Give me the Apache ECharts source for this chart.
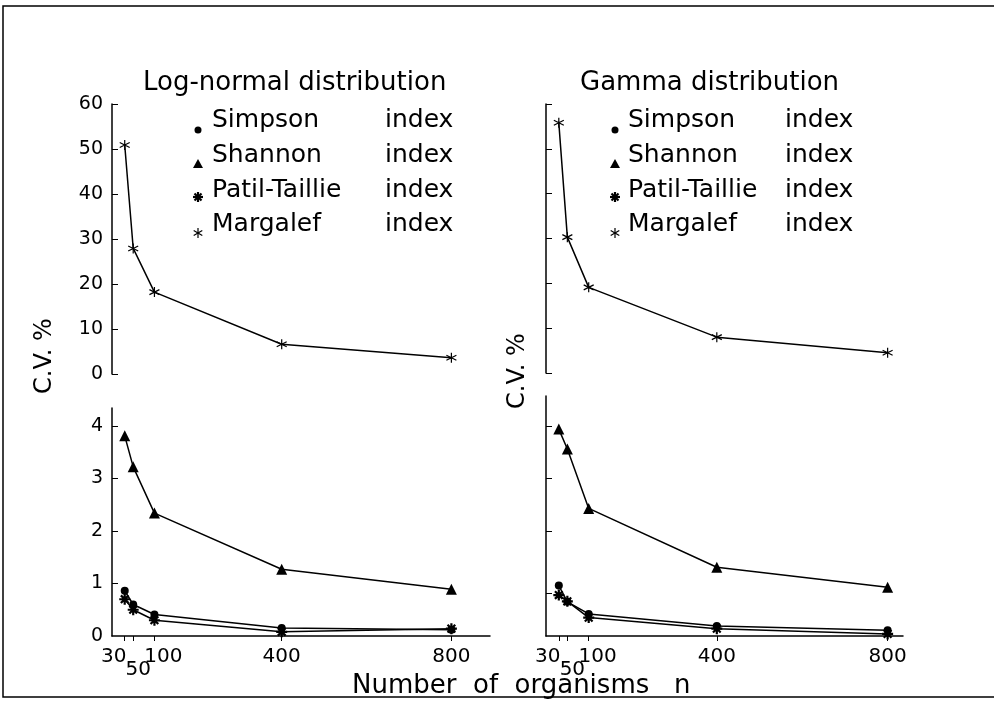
<!DOCTYPE html>
<html>
<head>
<meta charset="utf-8">
<script src="https://cdn.jsdelivr.net/npm/echarts@6/dist/echarts.min.js"></script>
<style>
  html, body { margin: 0; padding: 0; background: #fff; }
  #chart { width: 994px; height: 705px; }
</style>
</head>
<body>
<div id="chart"></div>
<script>
// sample sizes (number of organisms n)
const sizes = [30, 50, 100, 400, 800];
const xTicks = [30, 50, 100, 400, 800];
const xLabelsMain = [30, 100, 400, 800];
const xLabelsLow = [50];   // "50" sits a line lower in the original

// C.V. %
const margalefLogNormal = [50.9, 27.9, 18.2, 6.6, 3.6];
const margalefGamma = [55.8, 30.3, 19.1, 8.0, 4.5];

const simpsonLogNormal = [0.86, 0.6, 0.41, 0.15, 0.12];
const shannonLogNormal = [3.81, 3.22, 2.34, 1.27, 0.89];
const patilLogNormal = [0.7, 0.5, 0.3, 0.08, 0.14];

const simpsonGamma = [0.96, 0.65, 0.42, 0.19, 0.11];
const shannonGamma = [3.94, 3.56, 2.43, 1.31, 0.93];
const patilGamma = [0.78, 0.66, 0.35, 0.14, 0.04];

const legendNames = ['Simpson', 'Shannon', 'Patil-Taillie', 'Margalef'];

const FONT = '"DejaVu Sans", sans-serif';
const asterisk = 'path://M5 0L5 10M0.67 2.5L9.33 7.5M9.33 2.5L0.67 7.5';
const boldStar = 'path://M5 0L5 10M0 5L10 5M1.5 1.5L8.5 8.5M8.5 1.5L1.5 8.5';

const pairs = (vals) => sizes.map((n, i) => [n, vals[i]]);

const styles = {
  'Simpson': { symbol: 'circle', symbolSize: 8, itemStyle: { color: '#000', borderWidth: 0 } },
  'Shannon': { symbol: 'triangle', symbolSize: 11, itemStyle: { color: '#000', borderWidth: 0 } },
  'Patil-Taillie': { symbol: boldStar, symbolSize: 11, itemStyle: { color: '#000', borderColor: '#000', borderWidth: 2.2 } },
  'Margalef': { symbol: asterisk, symbolSize: 10, itemStyle: { color: '#000', borderColor: '#000', borderWidth: 1.2 } }
};

const makeSeries = (name, vals, idx) => Object.assign({
  name: name,
  type: 'line',
  xAxisIndex: idx,
  yAxisIndex: idx,
  data: pairs(vals),
  lineStyle: { color: '#000', width: 1.5 },
  emphasis: { disabled: true },
  animation: false
}, styles[name]);

const xLabelFmt = (v) => {
  if (v === 30) return '{a|30}';
  if (v === 50) return '{b|50}';
  if (v === 100) return '{c|100}';
  return '{d|' + v + '}';
};
const labelText = { fontFamily: FONT, fontSize: 20, color: '#000' };
const xRich = {
  a: Object.assign({ padding: [0, 22, 0, 0] }, labelText),
  b: Object.assign({ padding: [0, 0, 0, 10] }, labelText),
  c: Object.assign({ padding: [0, 0, 0, 18] }, labelText),
  d: Object.assign({}, labelText)
};

const xAxisBottom = (idx, max) => ({
  gridIndex: idx,
  type: 'value',
  position: 'bottom',
  min: 0,
  max: max,
  axisLine: { lineStyle: { color: '#000', width: 1.5 } },
  axisTick: { customValues: xTicks, length: 5, lineStyle: { color: '#000', width: 1 } },
  axisLabel: {
    customValues: xLabelsMain,
    hideOverlap: false,
    showMinLabel: true,
    showMaxLabel: true,
    margin: 11,
    formatter: xLabelFmt,
    rich: xRich
  },
  splitLine: { show: false }
});

// second axis on the same grid, only to carry the lowered "50"
const xAxisLow = (idx, max) => ({
  gridIndex: idx,
  type: 'value',
  position: 'bottom',
  min: 0,
  max: max,
  axisLine: { show: false },
  axisTick: { show: false },
  axisLabel: {
    customValues: xLabelsLow,
    hideOverlap: false,
    showMinLabel: true,
    showMaxLabel: true,
    margin: 24,
    formatter: xLabelFmt,
    rich: xRich
  },
  splitLine: { show: false }
});

const xAxisHidden = (idx, max) => ({
  gridIndex: idx, type: 'value', min: 0, max: max, show: false
});

const yLine = { lineStyle: { color: '#000', width: 1.5 } };
const yTick = { inside: true, length: 6, lineStyle: { color: '#000', width: 1 } };
const yLabel = { fontFamily: FONT, fontSize: 19, color: '#000', margin: 9, hideOverlap: false,
  showMinLabel: true, showMaxLabel: true };

// small helper: a star of straight strokes for the legend markers
const spokes = (cx, cy, segs, width) => segs.map(s => ({
  type: 'line',
  shape: { x1: cx + s[0], y1: cy + s[1], x2: cx + s[2], y2: cy + s[3] },
  style: { stroke: '#000', lineWidth: width }
}));

// legend drawn by hand so the "index" column lines up like the original
const legendRows = [120, 155, 190, 224];
const markerRows = [130, 164, 197, 233];
const legendGraphic = (markerX, nameX, indexX) => {
  const els = [];
  legendNames.forEach((name, i) => {
    els.push({ type: 'text', x: nameX, y: legendRows[i],
      style: { text: name, font: '25px ' + FONT, fill: '#000', textVerticalAlign: 'middle' } });
    els.push({ type: 'text', x: indexX, y: legendRows[i],
      style: { text: 'index', font: '25px ' + FONT, fill: '#000', textVerticalAlign: 'middle' } });
  });
  els.push({ type: 'circle', shape: { cx: markerX, cy: markerRows[0], r: 3.5 }, style: { fill: '#000' } });
  els.push({ type: 'polygon',
    shape: { points: [[markerX, markerRows[1] - 5], [markerX + 5, markerRows[1] + 4], [markerX - 5, markerRows[1] + 4]] },
    style: { fill: '#000' } });
  spokes(markerX, markerRows[2], [[0, -5, 0, 5], [-5, 0, 5, 0], [-3.5, -3.5, 3.5, 3.5], [3.5, -3.5, -3.5, 3.5]], 2.2)
    .forEach(e => els.push(e));
  spokes(markerX, markerRows[3], [[0, -5, 0, 5], [-4.3, -2.5, 4.3, 2.5], [4.3, -2.5, -4.3, 2.5]], 1.2)
    .forEach(e => els.push(e));
  return els;
};

const myChart = echarts.init(document.getElementById('chart'));

const option = {
  backgroundColor: '#fff',
  animation: false,
  grid: [
    { left: 112, top: 104, width: 378, height: 270 },
    { left: 112, top: 408, width: 378, height: 228 },
    { left: 546, top: 104, width: 357, height: 269 },
    { left: 546, top: 396, width: 357, height: 240 }
  ],
  xAxis: [
    xAxisHidden(0, 891),
    xAxisBottom(1, 891),
    xAxisHidden(2, 836),
    xAxisBottom(3, 836),
    xAxisLow(1, 891),
    xAxisLow(3, 836)
  ],
  yAxis: [
    { gridIndex: 0, type: 'value', min: 0, max: 60, interval: 10,
      axisLine: yLine, axisTick: yTick, axisLabel: yLabel, splitLine: { show: false } },
    { gridIndex: 1, type: 'value', min: 0, max: 4.34,
      axisLine: yLine,
      axisTick: Object.assign({ customValues: [1, 2, 3, 4] }, yTick),
      axisLabel: Object.assign({ customValues: [0, 1, 2, 3, 4], padding: [0, 0, 16, 0] }, yLabel),
      splitLine: { show: false } },
    { gridIndex: 2, type: 'value', min: 0, max: 60, interval: 10,
      axisLine: yLine, axisTick: yTick, axisLabel: { show: false }, splitLine: { show: false } },
    { gridIndex: 3, type: 'value', min: 0, max: 4.57,
      axisLine: yLine,
      axisTick: Object.assign({ customValues: [0.82, 2, 3, 4] }, yTick),
      axisLabel: { show: false }, splitLine: { show: false } }
  ],
  series: [
    makeSeries('Margalef', margalefLogNormal, 0),
    makeSeries('Simpson', simpsonLogNormal, 1),
    makeSeries('Patil-Taillie', patilLogNormal, 1),
    makeSeries('Shannon', shannonLogNormal, 1),
    makeSeries('Margalef', margalefGamma, 2),
    makeSeries('Simpson', simpsonGamma, 3),
    makeSeries('Patil-Taillie', patilGamma, 3),
    makeSeries('Shannon', shannonGamma, 3)
  ],
  graphic: [
    // frame
    { type: 'rect', shape: { x: 3, y: 6, width: 995, height: 691 },
      style: { fill: 'none', stroke: '#000', lineWidth: 1.5 } },
    { type: 'text', x: 143, y: 83,
      style: { text: 'Log-normal distribution', font: '26px ' + FONT, fill: '#000', textVerticalAlign: 'middle' } },
    { type: 'text', x: 580, y: 83,
      style: { text: 'Gamma distribution', font: '26px ' + FONT, fill: '#000', textVerticalAlign: 'middle' } },
    { type: 'text', x: 45, y: 356, rotation: Math.PI / 2,
      style: { text: 'C.V. %', font: '24px ' + FONT, fill: '#000', textAlign: 'center', textVerticalAlign: 'middle' } },
    { type: 'text', x: 518, y: 371, rotation: Math.PI / 2,
      style: { text: 'C.V. %', font: '24px ' + FONT, fill: '#000', textAlign: 'center', textVerticalAlign: 'middle' } },
    { type: 'text', x: 352, y: 686,
      style: { text: 'Number  of  organisms   n', font: '26px ' + FONT, fill: '#000', textVerticalAlign: 'middle' } }
  ].concat(legendGraphic(198, 212, 385), legendGraphic(615, 628, 785))
};

myChart.setOption(option);
</script>
</body>
</html>
